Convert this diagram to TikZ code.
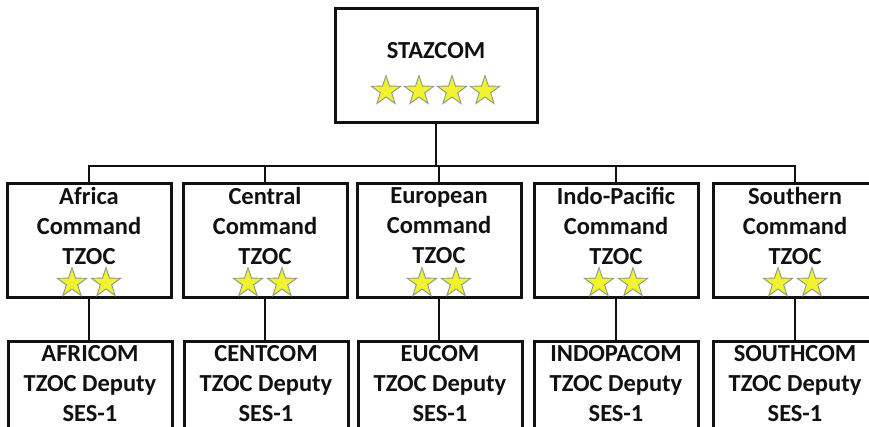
\documentclass[tikz,border=0pt]{standalone}
\usepackage{fontspec}
\setmainfont{Carlito}
\usetikzlibrary{shapes.geometric}
\definecolor{staryellow}{HTML}{F2F22E}
\definecolor{staredge}{HTML}{8A9A86}
\definecolor{ink}{HTML}{111111}
\begin{document}
\begin{tikzpicture}[x=1pt,y=-1pt,
  box/.style={draw=ink, line width=3pt, minimum width=164pt, minimum height=114pt, inner sep=0pt},
  lbl/.style={font=\bfseries\fontsize{24.5}{30}\selectfont, text=ink, align=center, inner sep=0pt},
  st/.style={star, star points=5, star point ratio=2.6, minimum size=31pt, inner sep=0pt, outer sep=0pt, fill=staryellow, draw=staredge, line width=0.9pt},
  link/.style={draw=ink, line width=2.8pt}]
\useasboundingbox (0,0) rectangle (869,426);
\fill[white] (0,0) rectangle (869,426);
\clip (0,0) rectangle (869,426);

% top
\node[box, minimum width=202pt] (top) at (436,65) {};
\node[lbl] (toptxt) at (436,51) {STAZCOM};
\node[st] (ts1) at (386,91) {};
\node[st] (ts2) at (419,91) {};
\node[st] (ts3) at (452,91) {};
\node[st] (ts4) at (485,91) {};

% second row
\node[box] (a2) at (89,240) {};
\node[box] (c2) at (265,240) {};
\node[box] (e2) at (439,240) {};
\node[box] (i2) at (616,240) {};
\node[box] (s2) at (795,240) {};

\node[lbl] (a2t) at (89,226) {Africa\\Command\\TZOC};
\node[lbl] (c2t) at (265,226) {Central\\Command\\TZOC};
\node[lbl] (e2t) at (439,226) {European\\Command\\TZOC};
\node[lbl] (i2t) at (616,226) {Indo-Pacific\\Command\\TZOC};
\node[lbl] (s2t) at (795,226) {Southern\\Command\\TZOC};

\node[st] (as1) at (72,283) {};  \node[st] (as2) at (106,283) {};
\node[st] (cs1) at (248,283) {}; \node[st] (cs2) at (282,283) {};
\node[st] (es1) at (422,283) {}; \node[st] (es2) at (456,283) {};
\node[st] (is1) at (599,283) {}; \node[st] (is2) at (633,283) {};
\node[st] (ss1) at (778,283) {}; \node[st] (ss2) at (812,283) {};

% third row
\node[box] (a3) at (90,398) {};
\node[box] (c3) at (266,398) {};
\node[box] (e3) at (440,398) {};
\node[box] (i3) at (616,398) {};
\node[box] (s3) at (795,398) {};

\node[lbl] (a3t) at (90,384) {AFRICOM\\TZOC Deputy\\SES-1};
\node[lbl] (c3t) at (266,384) {CENTCOM\\TZOC Deputy\\SES-1};
\node[lbl] (e3t) at (440,384) {EUCOM\\TZOC Deputy\\SES-1};
\node[lbl] (i3t) at (616,384) {INDOPACOM\\TZOC Deputy\\SES-1};
\node[lbl] (s3t) at (795,384) {SOUTHCOM\\TZOC Deputy\\SES-1};

% connectors
\coordinate (bus) at (436,166);
\draw[link] (top.south) -- (bus);
\foreach \n in {a2,c2,e2,i2,s2} {\draw[link] (bus) -| (\n.north);}
\draw[link] (a2.south) -- (a2.south |- a3.north);
\draw[link] (c2.south) -- (c2.south |- c3.north);
\draw[link] (e2.south) -- (e2.south |- e3.north);
\draw[link] (i2.south) -- (i2.south |- i3.north);
\draw[link] (s2.south) -- (s2.south |- s3.north);
\end{tikzpicture}
\end{document}
